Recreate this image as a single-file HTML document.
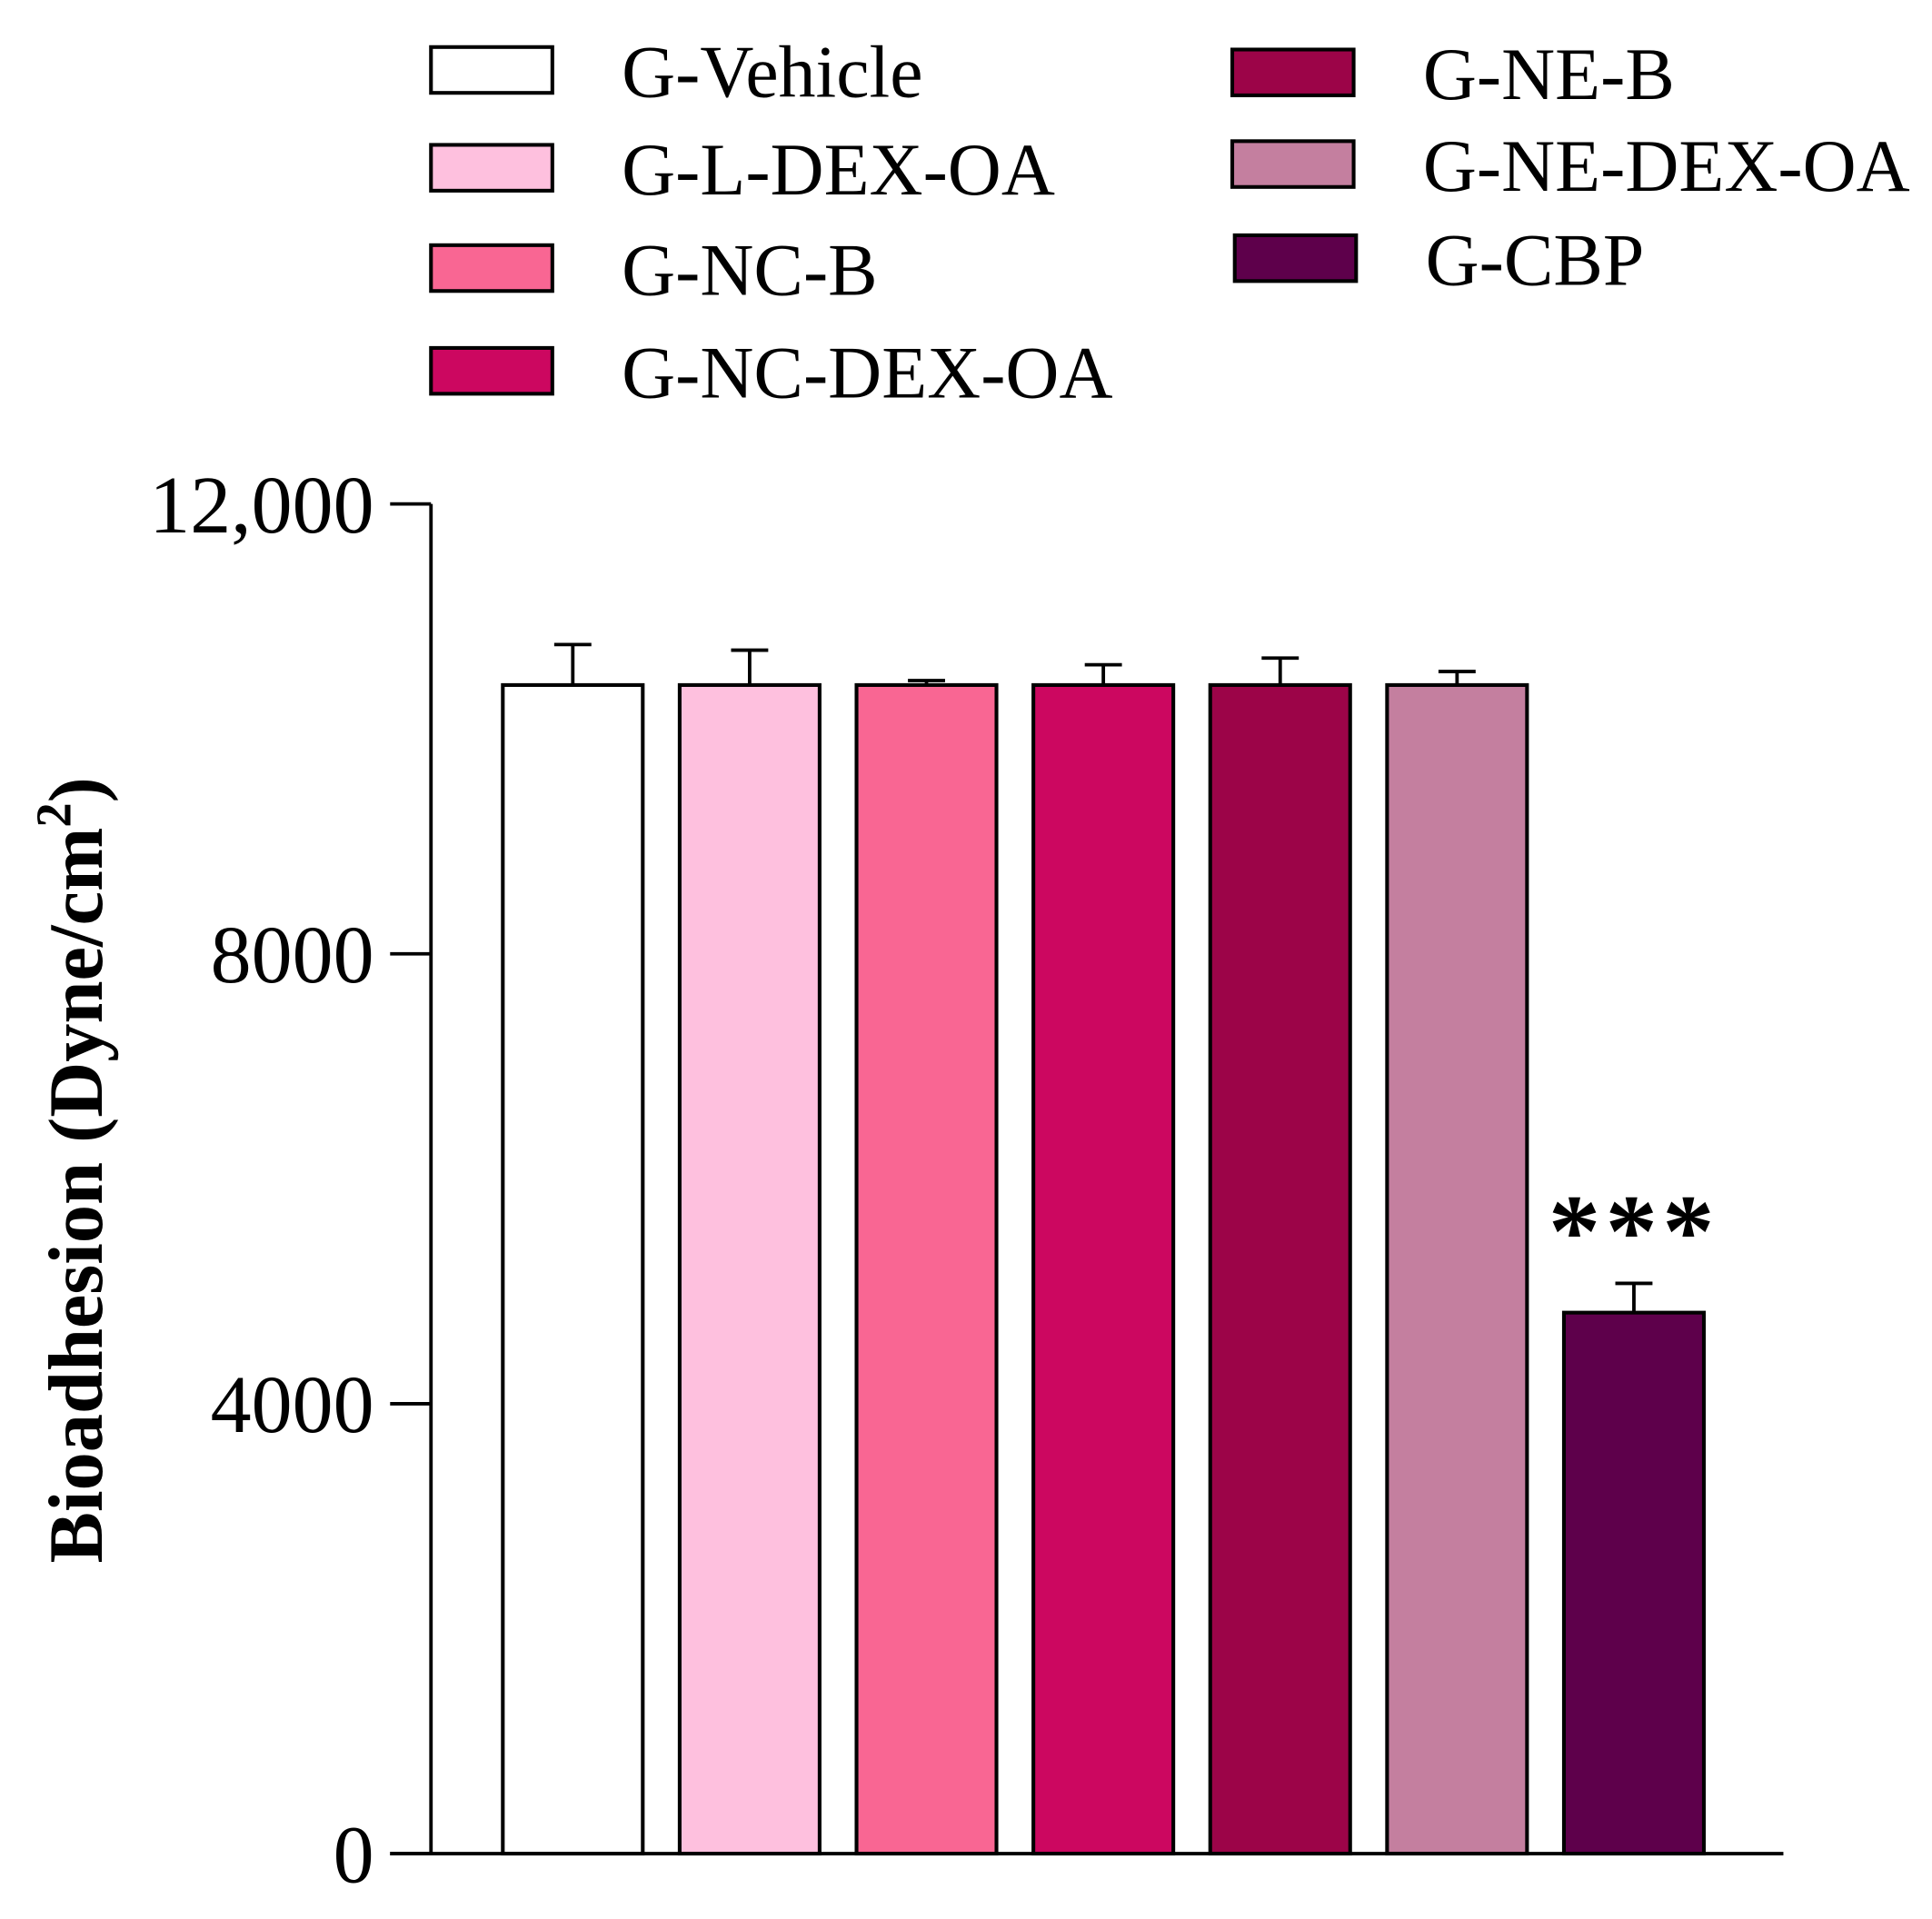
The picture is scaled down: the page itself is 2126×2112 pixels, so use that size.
<!DOCTYPE html>
<html><head><meta charset="utf-8"><style>
html,body{margin:0;padding:0;background:#fff;}
svg{display:block;}
text{font-family:"Liberation Serif",serif;fill:#000;}
</style></head><body>
<svg id="chart" width="2126" height="2112" viewBox="0 0 1560 1549.8" preserveAspectRatio="none" xmlns="http://www.w3.org/2000/svg"></svg>
<script>
const categories = ["G-Vehicle","G-L-DEX-OA","G-NC-B","G-NC-DEX-OA","G-NE-B","G-NE-DEX-OA","G-CBP"];
const values = [10390, 10390, 10390, 10390, 10390, 10390, 4810];
const errors = [360, 310, 40, 180, 240, 120, 260];
const colors = ["#ffffff","#fec0de","#f96693","#cc0760","#9c0448","#c47f9f","#5e004b"];
const yTicks = [0, 4000, 8000, 12000];
const yTickLabels = ["0","4000","8000","12,000"];
const sigLabels = ["","","","","","","***"];

const NS = "http://www.w3.org/2000/svg";
const svg = document.getElementById("chart");
function mk(tag, attrs, parent){const e=document.createElementNS(NS,tag);for(const k in attrs)e.setAttribute(k,attrs[k]);(parent||svg).appendChild(e);return e;}
const y0=1497, yTop=407, yMax=12000;
function yScale(v){return y0-(v/yMax)*(y0-yTop);}
const xStart=406, step=142.8, barW=113;
function xScale(i){return xStart+i*step;}

categories.forEach((c,i)=>{
  const x=xScale(i), yv=yScale(values[i]), ye=yScale(values[i]+errors[i]), cx=x+barW/2;
  const g=mk("g",{});
  
  
  const l=mk("line",{x1:cx,x2:cx,y1:yv,y2:ye,stroke:"#000","stroke-width":2.8},g);
  
  
  const cap=mk("line",{x1:cx-15,x2:cx+15,y1:ye,y2:ye,stroke:"#000","stroke-width":2.8},g);
  
  
  const r=mk("rect",{x:x,y:yv,width:barW,height:y0-yv,fill:colors[i],stroke:"#000","stroke-width":3},g);
  
  
  if(sigLabels[i]){
    const t=mk("text",{x:cx,y:ye-14,"text-anchor":"middle","font-size":84,"font-weight":"bold","letter-spacing":"4"},g);
    t.textContent=sigLabels[i];
    
    
  }
});

const ya=mk("line",{x1:348,x2:348,y1:yTop,y2:y0,stroke:"#000","stroke-width":2.8});


const xa=mk("line",{x1:315,x2:1440,y1:y0,y2:y0,stroke:"#000","stroke-width":2.8});


yTicks.forEach((v,i)=>{
  const y=yScale(v);
  const t=mk("line",{x1:315,x2:348,y1:y,y2:y,stroke:"#000","stroke-width":2.8});
  
  
  const lb=mk("text",{x:302,y:y+23,"text-anchor":"end","font-size":66});
  lb.textContent=yTickLabels[i];
  
  
});
const yt=mk("text",{x:0,y:0,"text-anchor":"middle","font-size":62,"font-weight":"bold",transform:"translate(82,945) rotate(-90)"});


yt.innerHTML='Bioadhesion (Dyne/cm<tspan dy="-25" font-size="40">2</tspan><tspan dy="25">)</tspan>';

const legPos=[[348,38],[348,117],[348,198],[348,281],[995,40],[995,114],[997,190]];
categories.forEach((c,i)=>{
  const [lx,ly]=legPos[i];
  const g=mk("g",{});
  
  
  const r=mk("rect",{x:lx,y:ly,width:98,height:37,fill:colors[i],stroke:"#000","stroke-width":3},g);
  
  
  const t=mk("text",{x:lx+154,y:ly+40,"font-size":60},g);
  t.textContent=c;
  
  
});
</script>
</body></html>
